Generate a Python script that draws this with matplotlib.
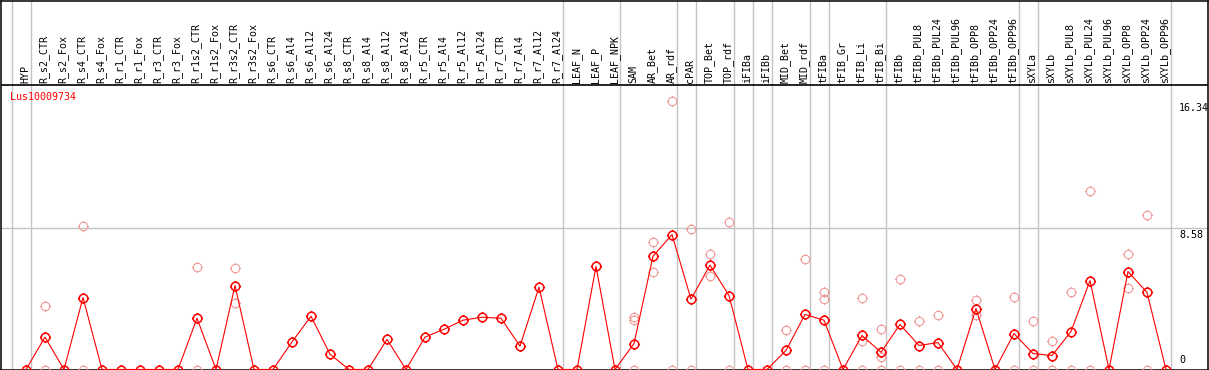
import numpy as np
import matplotlib
matplotlib.use("Agg")
import matplotlib.pyplot as plt
from matplotlib.path import Path

# sample names (columns)
labels = ["HYP",
          "R_s2_CTR", "R_s2_Fox", "R_s4_CTR", "R_s4_Fox", "R_r1_CTR", "R_r1_Fox",
          "R_r3_CTR", "R_r3_Fox", "R_r1s2_CTR", "R_r1s2_Fox", "R_r3s2_CTR", "R_r3s2_Fox",
          "R_s6_CTR", "R_s6_Al4", "R_s6_Al12", "R_s6_Al24",
          "R_s8_CTR", "R_s8_Al4", "R_s8_Al12", "R_s8_Al24",
          "R_r5_CTR", "R_r5_Al4", "R_r5_Al12", "R_r5_Al24",
          "R_r7_CTR", "R_r7_Al4", "R_r7_Al12", "R_r7_Al24",
          "LEAF_N", "LEAF_P", "LEAF_NPK", "SAM", "AR_Bet", "AR_rdf", "cPAR",
          "TOP_Bet", "TOP_rdf", "iFIBa", "iFIBb", "MID_Bet", "MID_rdf", "tFIBa",
          "tFIB_Gr", "tFIB_Li", "tFIB_Bi", "tFIBb",
          "tFIBb_PUL8", "tFIBb_PUL24", "tFIBb_PUL96", "tFIBb_OPP8", "tFIBb_OPP24", "tFIBb_OPP96",
          "sXYLa", "sXYLb",
          "sXYLb_PUL8", "sXYLb_PUL24", "sXYLb_PUL96", "sXYLb_OPP8", "sXYLb_OPP24", "sXYLb_OPP96"]

# mean expression per sample
means = [0, 1.97, 0, 4.38, 0, 0, 0, 0, 0, 3.12, 0, 5.11, 0,
         0, 1.68, 3.24, 0.93, 0, 0, 1.83, 0, 1.97, 2.45, 3.0, 3.18,
         3.12, 1.42, 5.01, 0, 0, 6.27, 0, 1.58, 6.89, 8.21, 4.28,
         6.35, 4.5, 0, 0, 1.16, 3.35, 3.0, 0, 2.07, 1.05, 2.74,
         1.46, 1.64, 0, 3.71, 0, 2.19, 0.97, 0.85,
         2.31, 5.41, 0, 5.96, 4.69, 0]

# individual replicates (sample index, value)
rep_idx = [1, 1, 3, 3, 9, 9, 11, 11, 32, 32, 32, 33, 33, 34, 34, 35, 35,
           36, 36, 37, 37, 40, 40, 41, 41, 42, 42, 42, 44, 44, 44, 45, 45, 45,
           46, 46, 47, 47, 48, 48, 50, 50, 52, 52, 53, 53, 54, 54, 55, 55,
           56, 56, 58, 58, 59, 59]
rep_val = [3.89, 0, 8.76, 0, 6.21, 0, 6.15, 4.05, 3.2, 3.04, 0, 7.77, 5.94, 16.34, 0, 8.52, 0,
           7.02, 5.68, 9.0, 0, 2.39, 0, 6.75, 0, 4.7, 4.28, 0, 4.38, 1.74, 0, 2.45, 0.77, 0,
           5.48, 0, 2.94, 0, 3.29, 0, 4.2, 3.29, 4.44, 0, 2.98, 0, 1.76, 0, 4.69, 0,
           10.83, 0, 7.0, 4.93, 9.37, 0]

# last sample of each group (vertical separators)
group_ends = [-1, 0, 28, 31, 34, 35, 37, 38, 39, 41, 42, 45, 52, 53, 60]

scale_ticks = [16.34, 8.58]
gene = "Lus10009734"

# circle marker with small ticks
circ = Path.unit_circle()
t = 1.3
ticks = Path([(0, 1), (0, t), (0, -1), (0, -t), (1, 0), (t, 0), (-1, 0), (-t, 0)],
             [Path.MOVETO, Path.LINETO] * 4)
marker = Path.make_compound_path(circ, ticks)

W, H = 1209, 370
fig = plt.figure(figsize=(W / 100, H / 100), dpi=100)
ax = fig.add_axes([1 / W, 0.5 / H, 1207 / W, 369 / H])

x = np.arange(len(labels))
ax.set_xlim((1 - 26) / 19, (1208 - 26) / 19)
ax.set_ylim(0, 22.45)
header = 17.29

for s in ax.spines.values():
    s.set_color("black")
    s.set_linewidth(1.1)
ax.set_xticks([])
ax.set_yticks([])

grid_c = "#c4c4c4"
for g in group_ends:
    ax.axvline(g + 0.25, color=grid_c, lw=1.0, zorder=1)
ax.axhline(8.58, color=grid_c, lw=1.0, zorder=1)
ax.axhline(header, color="black", lw=1.2, zorder=2)

# replicates
ax.plot(rep_idx, rep_val, linestyle="none", marker=marker, markersize=8.0,
        markerfacecolor="none", markeredgecolor="#ee9c9c", markeredgewidth=0.8, zorder=3)

# mean line
ax.plot(x, means, color="red", lw=0.8, marker=marker, markersize=8.0,
        markerfacecolor="none", markeredgecolor="red", markeredgewidth=1.1, zorder=4)

for i, lab in enumerate(labels):
    ax.text(i - 0.05, header + 0.12, lab, rotation=90, ha="center", va="bottom",
            fontsize=7.2, family="DejaVu Sans Mono", color="black")

ax.text(-0.84, 16.6, gene, ha="left", va="center", fontsize=7.2,
        family="DejaVu Sans Mono", color="red")

for v in scale_ticks:
    ax.text(60.68, v - 0.1, f"{v:.2f}", ha="left", va="top", fontsize=7.2,
            family="DejaVu Sans Mono", color="black")
ax.text(60.68, 0.25, "0", ha="left", va="bottom", fontsize=7.2,
        family="DejaVu Sans Mono", color="black")

fig.savefig("out.png", dpi=100)
